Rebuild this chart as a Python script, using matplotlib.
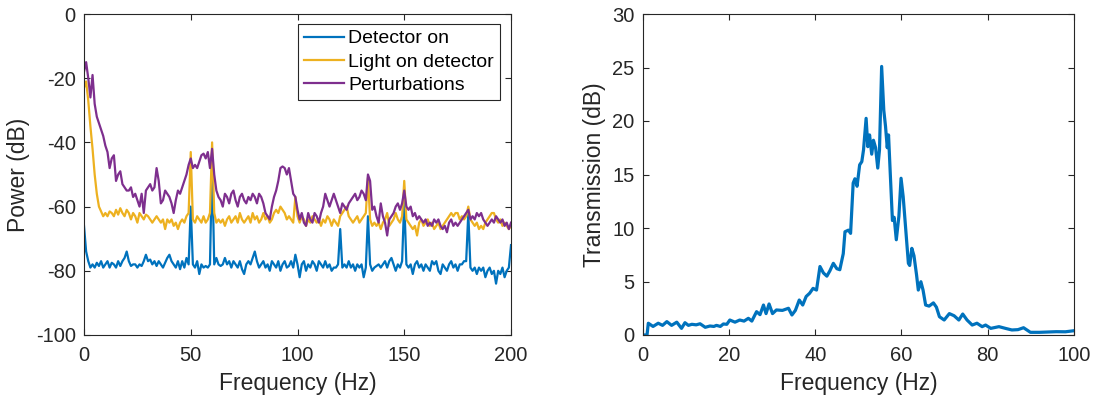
import numpy as np
import matplotlib
matplotlib.use("Agg")
import matplotlib.pyplot as plt

plt.rcParams['font.family'] = ['Liberation Sans', 'DejaVu Sans']
plt.rcParams['axes.unicode_minus'] = False

# ---------------- Data: left panel (power spectra, 1 Hz spacing 0..200 Hz) ----------------
freq_left = np.arange(0, 201, 1)

detector_on = [
    -66, -74, -77, -79, -78, -79, -77.5, -78.5, -77, -79,
    -78, -77, -79, -77.5, -78, -79, -77, -78.5, -77, -76,
    -74, -77, -78.5, -78, -78, -79, -78, -78.5, -77, -75,
    -77, -76.5, -78, -77, -78.5, -77, -78, -79, -77.5, -76,
    -75, -77, -78, -79, -77, -79.5, -77, -79, -76, -78,
    -60, -78, -79, -77, -81, -78, -79, -78.5, -79, -78,
    -46, -78, -76, -78, -78.5, -78, -76, -78, -77, -79,
    -77, -78, -79, -77, -79.5, -81, -78, -77, -78, -76,
    -74, -77, -79, -78, -77, -79, -78, -80, -77, -78,
    -79, -77, -80, -78, -77, -79, -78.5, -77, -79, -75,
    -78, -82, -78, -77, -80, -78, -79, -77, -78, -80,
    -77, -78, -79, -77, -79, -78, -80, -79, -79, -78,
    -67, -79, -78, -79, -77, -79, -78, -80, -78, -79,
    -78, -82, -79, -63, -78, -80, -79, -78.5, -78, -79,
    -78, -77, -79, -77, -76, -78, -80, -78, -79, -77,
    -58, -78, -79, -78, -81, -78, -77, -79, -78, -80,
    -78, -79, -80, -77, -78, -77, -80, -81, -78, -79,
    -80, -78, -77, -79, -78, -80, -78, -78, -77, -77,
    -62, -79, -80, -79, -81, -79, -80, -79, -82, -80,
    -79, -81, -80, -84, -80, -81, -79, -82, -80, -79,
    -72,
]

light_on_detector = [
    -23, -21, -27, -35, -42, -50, -56, -60, -61.5, -63,
    -62, -63, -61.5, -62, -63, -61, -62.5, -60.5, -62, -63,
    -61, -62, -64, -62, -63, -65, -62, -63, -64, -62.5,
    -63, -64, -65, -64, -63, -64, -65, -64, -67, -64,
    -65, -64, -66, -65, -67, -65, -64, -65, -63, -62,
    -43, -64, -65, -63, -64, -65, -63, -65, -64, -62,
    -40, -62, -65, -64, -65, -64, -66, -64, -63, -65,
    -64, -63, -65, -62, -64, -65, -64, -63, -65, -62,
    -64, -63, -65, -64, -62, -64, -63, -65, -64, -62,
    -61, -62, -60, -61, -62, -64, -63, -64, -65, -57,
    -63, -65, -63, -64, -66, -64, -65, -63, -64, -65,
    -64, -66, -64, -65, -63, -64, -66, -64, -65, -66,
    -63, -62, -61, -60, -63, -64, -65, -64, -63, -65,
    -64, -63, -62, -51, -64, -66, -65, -66, -65, -67,
    -65, -64, -62, -66, -65, -64, -62, -64, -65, -63,
    -52, -64, -65, -66, -67, -66, -69, -65, -64, -66,
    -65, -64, -66, -65, -67, -66, -65, -67, -66, -65,
    -64, -63, -62, -63, -62, -62, -64, -63, -64, -63,
    -60, -64, -65, -66, -65, -67, -66, -67, -65, -64,
    -63, -62, -62, -64, -65, -64, -66, -65, -66, -67,
    -66,
]

perturbations = [
    -18, -15, -20, -26, -19, -28, -32, -34, -36, -38,
    -41, -43, -48, -45, -44, -52, -50, -49, -53, -54,
    -55, -55, -54, -57, -56, -58, -60, -56, -62, -55,
    -54, -53, -55, -54, -48, -52, -59, -58, -55, -56,
    -57, -59, -62, -58, -55, -56, -54, -52, -50, -47,
    -45, -48, -47, -48, -46, -44, -43.5, -45, -43, -48,
    -42, -50, -55, -57, -58, -60, -56, -57, -59, -56,
    -55, -58, -60, -57, -56, -58, -59, -57, -58, -56,
    -57, -59, -56, -57, -59, -62, -63, -64, -60, -57,
    -55, -52, -48, -47.5, -48, -50, -48, -52, -56, -57,
    -61, -64, -62, -65, -66, -62, -64, -65, -62, -63,
    -65, -62, -60, -56, -58, -60, -58, -56, -58, -60,
    -62, -59, -60, -61, -59, -58, -57, -56, -58, -57,
    -55, -56, -58, -50, -52, -61, -60, -63, -65, -59,
    -63, -65, -69, -64, -63, -62, -60, -59, -61, -59,
    -55, -60, -61, -60, -63, -62, -64, -63, -64, -65,
    -64, -66, -65, -66, -64, -65, -64, -66, -67, -66,
    -68, -65, -64, -66, -65, -66, -65, -64, -63, -62,
    -61, -64, -63, -64, -62, -63, -62, -64, -65, -66,
    -65, -64, -65, -63, -64, -65, -64, -66, -65, -67,
    -65,
]

labels_left = ["Detector on", "Light on detector", "Perturbations"]

# ---------------- Data: right panel (transmission) ----------------
freq_right = [
    0, 1, 1.3, 2.4, 3.6, 4.6, 5.6, 6.7, 7.9, 9, 9.8, 10.6, 11.4, 12.4, 13.3,
    14.5, 15.6, 16.5, 17.1, 18, 18.7, 19.5, 20.2, 21.4, 22.5, 23.5, 24.5, 25.3,
    26.4, 27.2, 28, 28.6, 29.3, 30.1, 31, 32.4, 33.8, 34.6, 35.4, 36.3, 37.1,
    37.9, 38.7, 39.5, 40.3, 41.1, 41.9, 42.7, 43.4, 44.2, 45, 45.7, 46.5, 46.9,
    47.7, 48.2, 48.8, 49.2, 49.7, 50.3, 50.8, 51.2, 51.8, 52.2, 52.6, 53.1, 53.5,
    54, 54.5, 54.9, 55.4, 55.9, 56.3, 56.7, 57, 57.4, 57.9, 58.3, 58.8, 59.4,
    59.9, 60.4, 61, 61.6, 61.9, 62.4, 62.9, 63.5, 63.9, 64.5, 65, 65.6, 66.4,
    67.4, 68.1, 68.8, 69.9, 71.1, 72.2, 73.3, 74.2, 75.2, 76.4, 77.5, 78.7,
    79.5, 80.7, 82.6, 84.1, 85.6, 87, 88.3, 89.9, 92, 95.9, 98, 100,
]
transmission = [
    0, 0, 1.1, 0.8, 1.1, 0.9, 1.25, 0.9, 1.2, 0.62, 1.15, 0.9, 1.0, 0.95, 1.05,
    0.72, 0.84, 0.8, 0.9, 0.8, 1.03, 1.0, 1.4, 1.2, 1.4, 1.3, 1.56, 1.3,
    2.18, 1.9, 2.8, 2.0, 2.9, 2.0, 2.34, 2.3, 2.5, 1.87, 2.3, 3.27, 2.8,
    3.6, 3.9, 4.36, 4.2, 6.4, 5.8, 5.5, 6.0, 6.7, 6.2, 6.1, 7.6, 9.65,
    9.8, 9.5, 14.2, 14.6, 13.9, 15.9, 16.2, 17.3, 20.25, 17.6, 18.7, 16.9, 18.2,
    17.5, 15.6, 17.3, 25.1, 21.0, 19.5, 17.5, 18.7, 15.1, 10.7, 11.0, 8.9, 11.1,
    14.65, 12.9, 9.8, 6.7, 6.5, 8.1, 7.4, 5.6, 4.2, 4.98, 4.2, 2.8, 2.7,
    3.0, 2.6, 1.71, 1.4, 2.0, 1.8, 1.4, 1.96, 1.4, 0.93, 1.1, 0.78,
    0.93, 0.62, 0.78, 0.62, 0.47, 0.5, 0.68, 0.25, 0.25, 0.31, 0.3, 0.4,
]

colors = ["#0072BD", "#EDB120", "#7E2F8E"]
axcol = (0.15, 0.15, 0.15)

fig = plt.figure(figsize=(10.94, 4.03), dpi=100)
ax1 = fig.add_axes([84 / 1094, 1 - 335 / 403, 427 / 1094, 321 / 403])
ax2 = fig.add_axes([642.7 / 1094, 1 - 335 / 403, 431.3 / 1094, 321 / 403])


def style(ax):
    for s in ax.spines.values():
        s.set_color(axcol)
        s.set_linewidth(0.8)
    ax.tick_params(direction='in', length=4, width=0.8, colors=axcol,
                   labelsize=14.5, top=True, right=True)
    ax.tick_params(axis='x', pad=8)
    ax.tick_params(axis='y', pad=6)
    for t in ax.get_xticklabels() + ax.get_yticklabels():
        t.set_color(axcol)


for y, c, lab in zip([detector_on, light_on_detector, perturbations], colors, labels_left):
    ax1.plot(freq_left, y, color=c, lw=1.6, label=lab)
ax1.set_xlim(0, 200)
ax1.set_ylim(-100, 0)
ax1.set_xticks([0, 50, 100, 150, 200])
ax1.set_yticks([-100, -80, -60, -40, -20, 0])
ax1.set_xlabel("Frequency (Hz)", fontsize=16.5, color=axcol, labelpad=5)
ax1.set_ylabel("Power (dB)", fontsize=16.5, color=axcol, labelpad=4)
style(ax1)
leg = ax1.legend(loc='upper right', bbox_to_anchor=(0.9745, 0.97), fontsize=14,
                 frameon=True, fancybox=False, framealpha=1, edgecolor=axcol,
                 handlelength=2.05, handletextpad=0.2, borderpad=0.32,
                 labelspacing=0.28, borderaxespad=0)
leg.get_frame().set_linewidth(0.8)

ax2.plot(freq_right, transmission, color=colors[0], lw=2.3)
ax2.set_xlim(0, 100)
ax2.set_ylim(0, 30)
ax2.set_xticks([0, 20, 40, 60, 80, 100])
ax2.set_yticks([0, 5, 10, 15, 20, 25, 30])
ax2.set_xlabel("Frequency (Hz)", fontsize=16.5, color=axcol, labelpad=5)
ax2.set_ylabel("Transmission (dB)", fontsize=16.5, color=axcol, labelpad=4)
style(ax2)

fig.savefig("out.png", dpi=100)
